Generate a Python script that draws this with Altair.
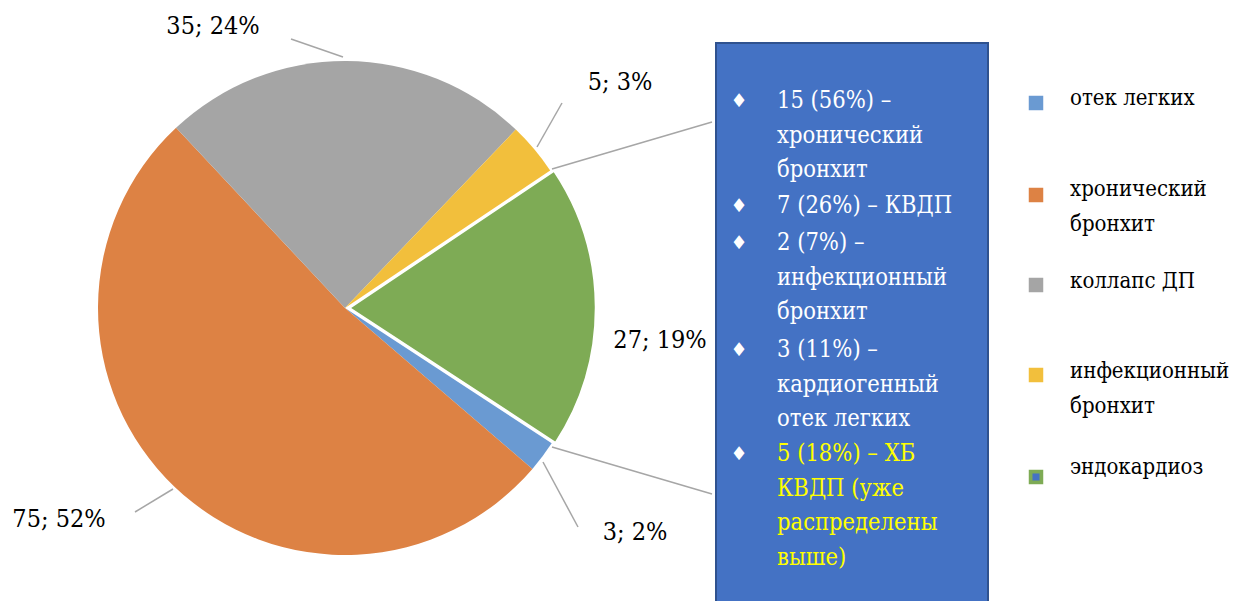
import math
import altair as alt
import pandas as pd

# ---------------- data ----------------
categories = ["отек легких", "хронический бронхит", "коллапс ДП", "инфекционный бронхит", "эндокардиоз"]
values = [3, 75, 35, 5, 27]
percents = [2, 52, 24, 3, 19]
legend_labels = ["отек легких", "хронический\nбронхит", "коллапс  ДП", "инфекционный\nбронхит", "эндокардиоз"]

box_items = [
    "15 (56%) –\nхронический\nбронхит",
    "7 (26%)  – КВДП",
    "2 (7%) –\nинфекционный\nбронхит",
    "3 (11%)  –\nкардиогенный\nотек легких",
    "5 (18%)  – ХБ\nКВДП  (уже\nраспределены\nвыше)",
]

# ---------------- styles / layout ----------------
colors = ["#6A9AD2", "#DD8244", "#A5A5A5", "#F2BF3C", "#7EAB55"]
box_text_colors = ["#FFFFFF", "#FFFFFF", "#FFFFFF", "#FFFFFF", "#FFFF00"]
FONT = "DejaVu Serif Condensed"
FS_LAB, FS_BOX, FS_LEG = 25, 23.5, 22

W, H = 1227, 593
xs = alt.Scale(domain=[8, 8 + W], range=[0, W])
ys = alt.Scale(domain=[8, 8 + H], range=[0, H])

CX, CY, R = 345, 308, 247          # pie centre (page px) and radius
T0 = math.radians(123.2)           # start angle of first slice
EXPLODE = 4

label_pos = [(635, 532), (59, 519), (213, 26), (620, 82), (660, 340)]
leader_lines = [
    (543, 462, 578, 527),
    (135, 512, 173, 489),
    (291, 39, 343, 57),
    (562, 103, 537, 147),
    (552, 169, 712, 122),
    (552, 447, 712, 494),
]
box_rect = (716, 43, 988, 612)
box_item_y = [101, 206, 243, 350, 454]
LH = 34.5
bullet_x, box_text_x = 739, 777
legend_sq = [103, 195, 285, 375, 477]
legend_txt = [98, 189, 281, 371, 467]
legend_sq_x, legend_txt_x = 1036, 1070

# ---------------- tables ----------------
pie_df = pd.DataFrame({"cat": categories, "value": values, "ord": list(range(len(values)))})

lab_df = pd.DataFrame({
    "text": [f"{v}; {p}%" for v, p in zip(values, percents)],
    "x": [p[0] for p in label_pos],
    "y": [p[1] for p in label_pos],
})

rule_df = pd.DataFrame(leader_lines, columns=["x", "y", "x2", "y2"])

rows = []
for item, y0, c in zip(box_items, box_item_y, box_text_colors):
    for i, line in enumerate(item.split("\n")):
        rows.append({"text": line, "y": y0 + i * LH, "c": c, "first": i == 0})
box_df = pd.DataFrame(rows)
bullet_df = box_df[box_df["first"]].assign(b="♦", x=bullet_x)

leg_rows = []
for cat, lab, ys_, yt, col in zip(categories, legend_labels, legend_sq, legend_txt, colors):
    for i, line in enumerate(lab.split("\n")):
        leg_rows.append({"text": line, "y": yt + i * LH})
leg_txt_df = pd.DataFrame(leg_rows)
leg_sq_df = pd.DataFrame({"cat": categories, "y": legend_sq, "x": legend_sq_x})

# ---------------- marks ----------------
theta = alt.Theta("value:Q", stack=True, scale=alt.Scale(range=[T0, T0 + 2 * math.pi]))
color = alt.Color("cat:N", scale=alt.Scale(domain=categories, range=colors), legend=None)
is_green = alt.datum.cat == categories[4]

pie_main = alt.Chart(pie_df).mark_arc(radius=R).encode(
    theta=theta, order=alt.Order("ord:Q"), color=color,
    x=alt.value(CX - 8), y=alt.value(CY - 8),
    opacity=alt.condition(is_green, alt.value(0), alt.value(1)),
)
pie_green = alt.Chart(pie_df).mark_arc(radius=R, xOffset=EXPLODE, stroke="white", strokeWidth=2.5).encode(
    theta=theta, order=alt.Order("ord:Q"), color=color,
    x=alt.value(CX - 8), y=alt.value(CY - 8),
    opacity=alt.condition(is_green, alt.value(1), alt.value(0)),
)

rules = alt.Chart(rule_df).mark_rule(color="#A6A6A6", strokeWidth=1.5).encode(
    x=alt.X("x:Q", scale=xs, axis=None), y=alt.Y("y:Q", scale=ys, axis=None),
    x2="x2:Q", y2="y2:Q",
)

labels = alt.Chart(lab_df).mark_text(font=FONT, fontSize=FS_LAB, color="#000000", align="center", baseline="middle").encode(
    x=alt.X("x:Q", scale=xs, axis=None), y=alt.Y("y:Q", scale=ys, axis=None), text="text:N",
)

box = alt.Chart(pd.DataFrame({"a": [0]})).mark_rect(fill="#4472C4", stroke="#2F528F", strokeWidth=2).encode(
    x=alt.value(box_rect[0] - 8), x2=alt.value(box_rect[2] - 8),
    y=alt.value(box_rect[1] - 8), y2=alt.value(box_rect[3] - 8),
)

box_text = alt.Chart(box_df).mark_text(font=FONT, fontSize=FS_BOX, align="left", baseline="middle").encode(
    x=alt.value(box_text_x - 8), y=alt.Y("y:Q", scale=ys, axis=None), text="text:N",
    color=alt.Color("c:N", scale=None),
)
bullets = alt.Chart(bullet_df).mark_text(font="DejaVu Sans", fontSize=19, align="center", baseline="middle", color="white").encode(
    x=alt.X("x:Q", scale=xs, axis=None), y=alt.Y("y:Q", scale=ys, axis=None), text="b:N",
)

leg_sq = alt.Chart(leg_sq_df).mark_point(shape="square", filled=True, size=210, opacity=1).encode(
    x=alt.X("x:Q", scale=xs, axis=None), y=alt.Y("y:Q", scale=ys, axis=None), color=color,
)
leg_inner = alt.Chart(leg_sq_df[leg_sq_df["cat"] == categories[4]]).mark_point(
    shape="square", filled=True, size=50, opacity=1, color="#4472C4").encode(
    x=alt.X("x:Q", scale=xs, axis=None), y=alt.Y("y:Q", scale=ys, axis=None),
)
leg_txt = alt.Chart(leg_txt_df).mark_text(font=FONT, fontSize=FS_LEG, align="left", baseline="middle", color="#000000").encode(
    x=alt.value(legend_txt_x - 8), y=alt.Y("y:Q", scale=ys, axis=None), text="text:N",
)

chart = alt.layer(
    pie_main, pie_green, rules, labels, box, box_text, bullets, leg_sq, leg_inner, leg_txt
).properties(
    width=W, height=H, padding=0, autosize=alt.AutoSizeParams(type="none"),
).configure_view(stroke=None)

chart.save("out.html", embed_options={"renderer": "svg", "actions": False})
